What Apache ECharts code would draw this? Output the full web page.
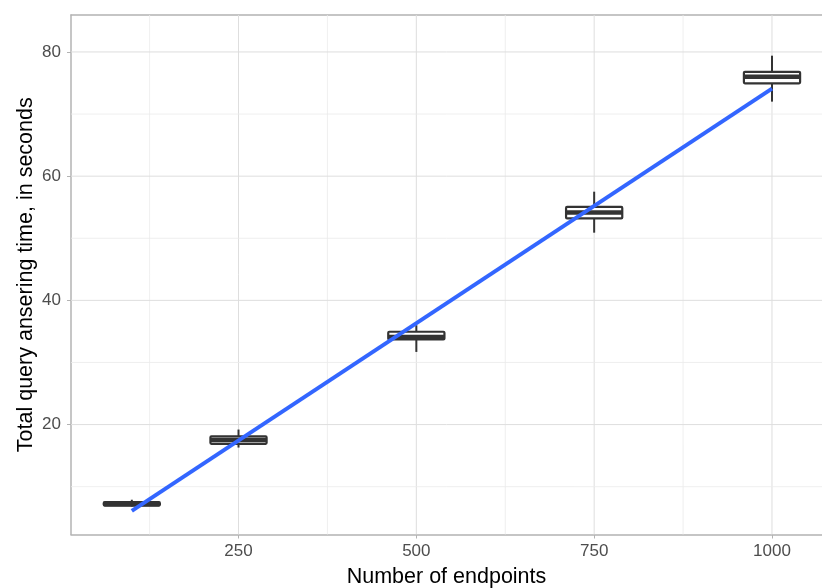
<!DOCTYPE html>
<html>
<head>
<meta charset="utf-8">
<script src="https://cdn.jsdelivr.net/npm/echarts@6/dist/echarts.min.js"></script>
<style>html,body{margin:0;padding:0;background:#fff;}#c{width:822px;height:588px;}</style>
</head>
<body>
<div id="c"></div>
<script>
// ---- data ----
const endpoints    = [100, 250, 500, 750, 1000];
const whiskerLow   = [6.8, 16.3, 31.7, 50.9, 72.0];
const q1           = [6.95, 16.9, 33.7, 53.2, 74.95];
const median       = [7.2, 17.5, 34.1, 54.15, 76.0];
const q3           = [7.5, 18.1, 34.95, 55.05, 76.8];
const whiskerHigh  = [7.9, 19.2, 36.0, 57.5, 79.4];
const fitX         = [100, 1000];
const fitY         = [6.1, 74.1];
const xTicks       = [250, 500, 750, 1000];
const xMinorTicks  = [125, 375, 625, 875];
const yTicks       = [20, 40, 60, 80];
const yMinorTicks  = [10, 30, 50, 70];
const boxWidthUnits = 79;

const X_MIN = 14.5, X_MAX = 1070.3, Y_MIN = 2.3, Y_MAX = 85.95;

const boxData = endpoints.map((x, i) => [x, whiskerLow[i], q1[i], median[i], q3[i], whiskerHigh[i]]);
const gridData = [];
xTicks.forEach(v => gridData.push([v, 0, 1]));
xMinorTicks.forEach(v => gridData.push([v, 0, 0]));
yTicks.forEach(v => gridData.push([v, 1, 1]));
yMinorTicks.forEach(v => gridData.push([v, 1, 0]));

const chart = echarts.init(document.getElementById('c'), null, {renderer: 'canvas'});
const axisGrey = '#B3B3B3';
const textGrey = '#4D4D4D';
const font = 'Liberation Sans, Arial, Helvetica, sans-serif';

chart.setOption({
  animation: false,
  backgroundColor: '#fff',
  grid: {left: 71, top: 15, width: 751, height: 519.5, containLabel: false, outerBoundsMode: 'none'},
  xAxis: [{
    type: 'value', min: X_MIN, max: X_MAX, position: 'bottom',
    name: 'Number of endpoints', nameLocation: 'middle', nameGap: 32, nameMoveOverlap: false,
    nameTextStyle: {color: '#000', fontSize: 21.5, fontFamily: font},
    axisLine: {show: true, onZero: false, lineStyle: {color: axisGrey, width: 1.5}},
    axisTick: {show: true, length: 4, lineStyle: {color: axisGrey, width: 1}, customValues: xTicks},
    axisLabel: {color: textGrey, fontSize: 17, fontFamily: font, margin: 8, customValues: xTicks,
      formatter: v => String(v)},
    splitLine: {show: false}
  }, {
    type: 'value', min: X_MIN, max: X_MAX, position: 'top',
    axisLine: {show: true, onZero: false, lineStyle: {color: axisGrey, width: 1.5}},
    axisTick: {show: false}, axisLabel: {show: false}, splitLine: {show: false}
  }],
  yAxis: [{
    type: 'value', min: Y_MIN, max: Y_MAX,
    name: 'Total query ansering time, in seconds', nameLocation: 'middle', nameGap: 34, nameMoveOverlap: false,
    nameTextStyle: {color: '#000', fontSize: 21.5, fontFamily: font},
    axisLine: {show: true, onZero: false, lineStyle: {color: axisGrey, width: 1.5}},
    axisTick: {show: true, length: 4, lineStyle: {color: axisGrey, width: 1}, customValues: yTicks},
    axisLabel: {color: textGrey, fontSize: 17, fontFamily: font, margin: 10, customValues: yTicks,
      formatter: v => String(v)},
    splitLine: {show: false}
  }],
  series: [{
    type: 'custom', z: 1, silent: true,
    data: gridData,
    renderItem: function (params, api) {
      const v = api.value(0), dir = api.value(1), major = api.value(2);
      const cs = params.coordSys;
      let shape;
      if (dir === 0) {
        const p = api.coord([v, Y_MIN]);
        shape = {x1: p[0], y1: cs.y, x2: p[0], y2: cs.y + cs.height};
      } else {
        const p = api.coord([X_MIN, v]);
        shape = {x1: cs.x, y1: p[1], x2: cs.x + cs.width, y2: p[1]};
      }
      return {type: 'line', shape: shape,
        style: {stroke: major ? '#DEDEDE' : '#EBEBEB', lineWidth: major ? 1 : 0.8}};
    }
  }, {
    type: 'custom', z: 3, silent: true,
    data: boxData,
    renderItem: function (params, api) {
      const x = api.value(0);
      const lo = api.coord([x, api.value(1)]);
      const b1 = api.coord([x, api.value(2)]);
      const md = api.coord([x, api.value(3)]);
      const b3 = api.coord([x, api.value(4)]);
      const hi = api.coord([x, api.value(5)]);
      const w = api.size([boxWidthUnits, 0])[0];
      const stroke = '#333333';
      return {type: 'group', children: [
        {type: 'line', shape: {x1: lo[0], y1: lo[1], x2: b1[0], y2: b1[1]}, style: {stroke: stroke, lineWidth: 2}},
        {type: 'line', shape: {x1: b3[0], y1: b3[1], x2: hi[0], y2: hi[1]}, style: {stroke: stroke, lineWidth: 2}},
        {type: 'rect', shape: {x: b1[0] - w / 2, y: b3[1], width: w, height: b1[1] - b3[1], r: 1},
          style: {fill: '#fff', stroke: stroke, lineWidth: 2.2}},
        {type: 'line', shape: {x1: md[0] - w / 2, y1: md[1], x2: md[0] + w / 2, y2: md[1]},
          style: {stroke: stroke, lineWidth: 4.5}}
      ]};
    }
  }, {
    type: 'line', z: 5, silent: true, symbol: 'none',
    data: fitX.map((x, i) => [x, fitY[i]]),
    lineStyle: {color: '#3366FF', width: 4}
  }]
});
</script>
</body>
</html>
